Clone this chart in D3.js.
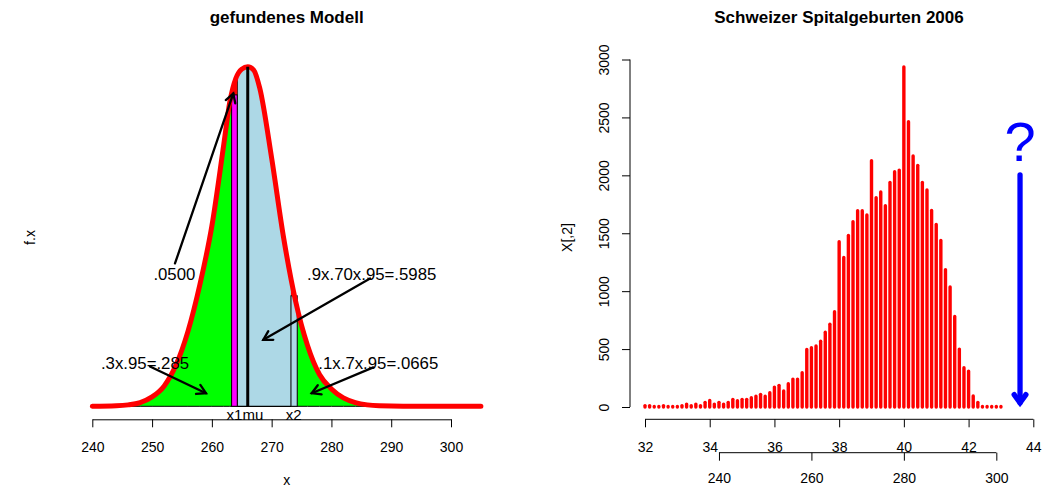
<!DOCTYPE html>
<html><head><meta charset="utf-8">
<script src="https://cdn.jsdelivr.net/npm/d3@7/dist/d3.min.js"></script>
<style>body{margin:0;background:#fff} text{font-family:"Liberation Sans",Arial,Helvetica,sans-serif;fill:#000}</style>
</head><body><svg id="c" width="1047" height="488"></svg>
<script>
// ---------- DATA: left panel (model) ----------
const modelX  = [240, 244, 246, 248, 250, 252, 254, 256, 258, 260, 262, 263, 264, 265, 266, 267, 268, 270, 272, 274, 276, 278, 280, 282, 284, 286, 288, 292, 305];
const modelFx = [0.0000, 0.0001, 0.0003, 0.0008, 0.0020, 0.0043, 0.0088, 0.0160, 0.0260, 0.0385, 0.0560, 0.0650, 0.0700, 0.0720, 0.0725, 0.0718, 0.0680, 0.0530, 0.0360, 0.0225, 0.0130, 0.0068, 0.0037, 0.0018, 0.0008, 0.0003, 0.0001, 0.0000, 0.0000];
const muValue = 266;
const x1Bin = [263.3, 264.25];
const x2Bin = [273.23, 274.28];
const x1BarHeight = 0.0665;
const x2BarHeight = 0.0236;
const leftTicks = [240, 250, 260, 270, 280, 290, 300];
const markerLabels = ["x1", "mu", "x2"];
const markerValues = [263.78, 266.88, 273.69];
const annotationTexts = [".0500", ".9x.70x.95=.5985", ".3x.95=.285", ".1x.7x.95=.0665"];
const annotationAt = [[253.73, 0.0282], [286.74, 0.0282], [248.82, 0.0093], [287.84, 0.0093]];
const arrowFrom = [[253.83, 0.0305], [286.46, 0.0273], [249.65, 0.0085], [287.0, 0.0083]];
const arrowTo   = [[263.59, 0.0668], [268.6, 0.0142], [259.02, 0.0028], [276.7, 0.0028]];

// ---------- DATA: right panel (births per gestational day) ----------
const gestDays = [224,225,226,227,228,229,230,231,232,233,234,235,236,237,238,239,240,241,242,243,244,245,246,247,248,249,250,251,252,253,254,255,256,257,258,259,260,261,262,263,264,265,266,267,268,269,270,271,272,273,274,275,276,277,278,279,280,281,282,283,284,285,286,287,288,289,290,291,292,293,294,295,296,297,298,299,300,301];
const births = [12,12,5,5,12,5,5,5,12,25, 12,25,12,40,57,25,40,25,40,66, 54,66,66,80,94,109,94,123,172,187, 138,201,241,241,296,497,512,526,568,645, 715,822,1427,1291,1481,1599,1694,1694,1657,2126, 1807,1856,1738,1939,2031,2045,2935,2463,2167,2086, 1939,1873,1697,1576,1438,1185,1036,782,500,339, 310,95,40,5,5,5,5,5];
const weekTicks = [32, 34, 36, 38, 40, 42, 44];
const dayTicks = [240, 260, 280, 300];
const countTicks = [0, 500, 1000, 1500, 2000, 2500, 3000];
const questionWeek = 43.59, questionCount = 2127;
const blueArrowFrom = 2003, blueArrowTo = 37;

const svg = d3.select("#c");
svg.append("rect").attr("width", 1047).attr("height", 488).attr("fill", "#fff");
const TICK_FS = 14, TITLE_FS = 17, LAB_FS = 14;

function arrow(g, p0, p1, len, color, width, headAngle) {
  const ang = Math.atan2(p1[1] - p0[1], p1[0] - p0[0]);
  const a = headAngle || Math.PI / 6;
  g.append("line").attr("x1", p0[0]).attr("y1", p0[1]).attr("x2", p1[0]).attr("y2", p1[1])
    .attr("stroke", color).attr("stroke-width", width).attr("stroke-linecap", "round");
  const h1 = [p1[0] - len * Math.cos(ang - a), p1[1] - len * Math.sin(ang - a)];
  const h2 = [p1[0] - len * Math.cos(ang + a), p1[1] - len * Math.sin(ang + a)];
  g.append("path").attr("d", `M${h1}L${p1}L${h2}`).attr("fill", "none")
    .attr("stroke", color).attr("stroke-width", width).attr("stroke-linecap", "round").attr("stroke-linejoin", "miter");
}
function styleAxis(a) {
  a.selectAll("text").attr("font-size", TICK_FS).attr("font-family", null).attr("fill", "#000");
  a.selectAll("line").attr("stroke", "#000");
  a.select(".domain").attr("stroke", "#000");
}

// ================= LEFT PANEL =================
const xL = d3.scaleLinear().domain([240, 300]).range([92.3, 451]);
const peak = d3.max(modelFx);
const yL = d3.scaleLinear().domain([0, peak]).range([406.3, 66.8]);
const pts = modelX.map((x, i) => [x, modelFx[i]]);
const area = d3.area().x(d => xL(d[0])).y0(yL(0)).y1(d => yL(d[1])).curve(d3.curveMonotoneX);
const line = d3.line().x(d => xL(d[0])).y(d => yL(d[1])).curve(d3.curveMonotoneX);
const L = svg.append("g");
const defs = svg.append("defs");
defs.append("clipPath").attr("id", "under").append("path").attr("d", area(pts));
defs.append("clipPath").attr("id", "mid").append("rect")
  .attr("x", xL(x1Bin[1])).attr("y", 0).attr("width", xL(x2Bin[0]) - xL(x1Bin[1])).attr("height", 488);

L.append("path").attr("d", area(pts)).attr("fill", "#00FF00").attr("stroke", "#000").attr("stroke-width", 1);
L.append("path").attr("d", area(pts)).attr("fill", "#ADD8E6").attr("stroke", "#000").attr("stroke-width", 1.2)
  .attr("clip-path", "url(#mid)");
const U = L.append("g").attr("clip-path", "url(#under)");
U.append("line").attr("x1", xL(x1Bin[1])).attr("x2", xL(x1Bin[1])).attr("y1", yL(0)).attr("y2", yL(peak))
  .attr("stroke", "#000").attr("stroke-width", 1);
[x1Bin, x2Bin].forEach(b => {
  U.append("rect").attr("x", xL(b[0])).attr("width", xL(b[1]) - xL(b[0]))
    .attr("y", yL(peak)).attr("height", yL(0) - yL(peak)).attr("fill", "#FF0000");
});
L.append("rect").attr("x", xL(x1Bin[0])).attr("width", xL(x1Bin[1]) - xL(x1Bin[0]))
  .attr("y", yL(x1BarHeight)).attr("height", yL(0) - yL(x1BarHeight))
  .attr("fill", "#FF00FF").attr("stroke", "#000").attr("stroke-width", 1);
L.append("rect").attr("x", xL(x2Bin[0])).attr("width", xL(x2Bin[1]) - xL(x2Bin[0]))
  .attr("y", yL(x2BarHeight)).attr("height", yL(0) - yL(x2BarHeight))
  .attr("fill", "#ADD8E6").attr("stroke", "#000").attr("stroke-width", 1);
L.append("path").attr("d", line(pts)).attr("fill", "none").attr("stroke", "#FF0000")
  .attr("stroke-width", 5).attr("stroke-linecap", "round").attr("stroke-linejoin", "round");
L.append("line").attr("x1", xL(muValue)).attr("x2", xL(muValue)).attr("y1", yL(0)).attr("y2", yL(peak))
  .attr("stroke", "#000").attr("stroke-width", 3);

annotationTexts.forEach((t, i) => {
  arrow(L, [xL(arrowFrom[i][0]), yL(arrowFrom[i][1])], [xL(arrowTo[i][0]), yL(arrowTo[i][1])], 10, "#000", 2.3);
});
annotationTexts.forEach((t, i) => {
  L.append("text").attr("x", xL(annotationAt[i][0])).attr("y", yL(annotationAt[i][1]) + 6)
    .attr("text-anchor", "middle").attr("font-size", 16.8).text(t);
});
markerLabels.forEach((t, i) => {
  L.append("text").attr("x", xL(markerValues[i])).attr("y", 420.3).attr("text-anchor", "middle")
    .attr("font-size", 15).text(t);
});
const axL = L.append("g").attr("transform", "translate(0,419.3)")
  .call(d3.axisBottom(xL).tickValues(leftTicks).tickSize(8).tickSizeOuter(0).tickPadding(14.5));
styleAxis(axL);
L.append("text").attr("x", 286.7).attr("y", 22.5).attr("text-anchor", "middle").attr("font-size", TITLE_FS)
  .attr("font-weight", "bold").text("gefundenes Modell");
L.append("text").attr("x", 286.7).attr("y", 485).attr("text-anchor", "middle").attr("font-size", LAB_FS).text("x");
L.append("text").attr("transform", "translate(35,237.5) rotate(-90)").attr("text-anchor", "middle")
  .attr("font-size", LAB_FS).text("f.x");

// ================= RIGHT PANEL =================
const xW = d3.scaleLinear().domain([32, 44]).range([645, 1033.3]);
const xD = d3.scaleLinear().domain([224, 308]).range([645, 1033.3]);
const yN = d3.scaleLinear().domain([0, 3000]).range([407, 59.5]);
const R = svg.append("g");
R.append("g").selectAll("line").data(gestDays).join("line")
  .attr("x1", d => xD(d)).attr("x2", d => xD(d))
  .attr("y1", yN(0)).attr("y2", (d, i) => yN(births[i]))
  .attr("stroke", "#FF0000").attr("stroke-width", 3.4).attr("stroke-linecap", "round");

const axY = R.append("g").attr("transform", "translate(630,0)")
  .call(d3.axisLeft(yN).tickValues(countTicks).tickFormat(d3.format("d")).tickSize(8).tickSizeOuter(0));
styleAxis(axY);
axY.selectAll(".tick text")
  .attr("text-anchor", "middle").attr("dy", null).attr("x", null).attr("y", null)
  .attr("transform", `translate(${608.5 - 630},0) rotate(-90)`);
axY.select(".domain").attr("d", `M0,${yN(3000)}V${yN(0)}`);
const axW = R.append("g").attr("transform", "translate(0,419.3)")
  .call(d3.axisBottom(xW).tickValues(weekTicks).tickSize(8).tickSizeOuter(0).tickPadding(14.5));
styleAxis(axW);
axW.select(".domain").attr("d", `M${xW(32)},0H${xW(44)}`);
const axD = R.append("g").attr("transform", "translate(0,452.7)")
  .call(d3.axisBottom(xD).tickValues(dayTicks).tickSize(8).tickSizeOuter(0).tickPadding(12.5));
styleAxis(axD);
axD.select(".domain").attr("d", `M${xD(dayTicks[0])},0H${xD(dayTicks[dayTicks.length - 1])}`);

R.append("text").attr("x", 839).attr("y", 22.5).attr("text-anchor", "middle").attr("font-size", TITLE_FS)
  .attr("font-weight", "bold").text("Schweizer Spitalgeburten 2006");
R.append("text").attr("transform", "translate(572,237.5) rotate(-90)").attr("text-anchor", "middle")
  .attr("font-size", LAB_FS).text("X[,2]");
R.append("text").attr("x", xW(questionWeek)).attr("y", yN(questionCount)).attr("text-anchor", "middle")
  .attr("font-size", 56).style("fill", "#0000FF").text("?");
arrow(R, [xW(questionWeek), yN(blueArrowFrom)], [xW(questionWeek), yN(blueArrowTo)], 10, "#0000FF", 5.3, Math.PI / 5);
</script></body></html>
